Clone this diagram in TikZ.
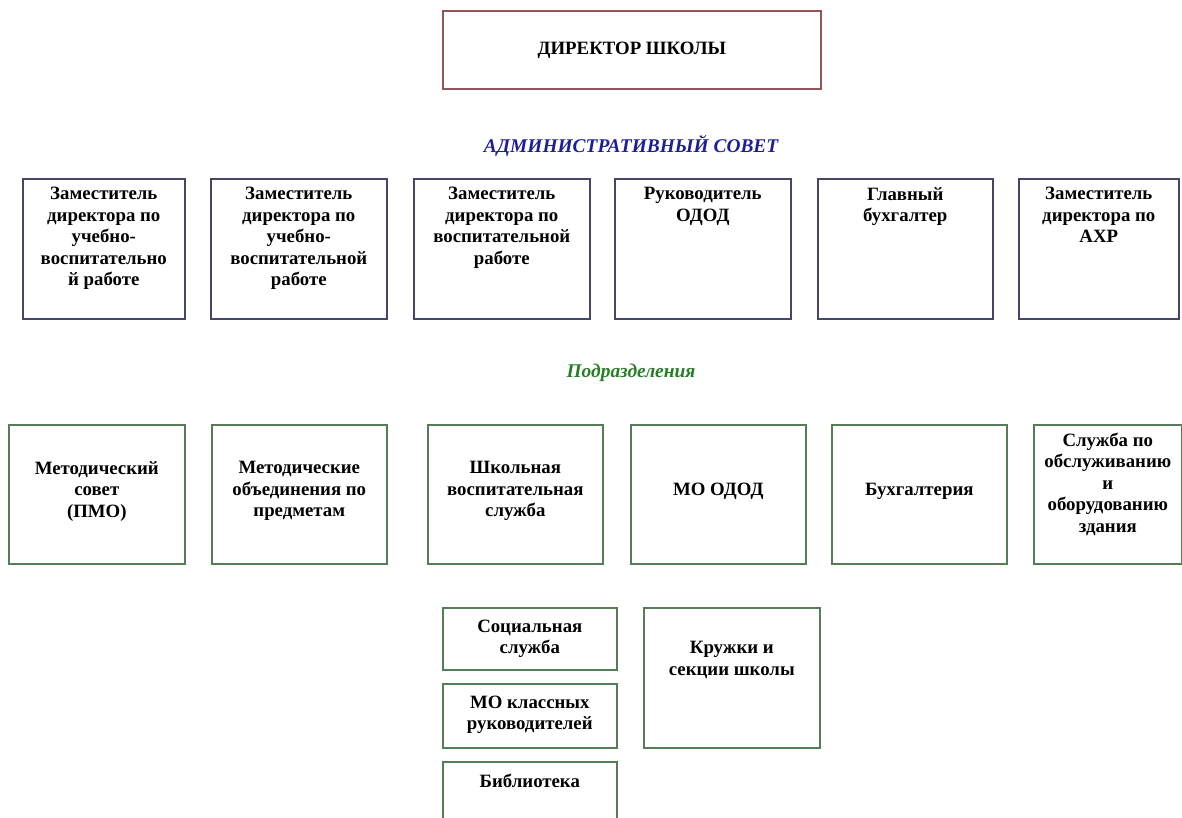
\documentclass[tikz,border=0pt]{standalone}
\usepackage{fontspec}
\setmainfont{Liberation Serif}
\definecolor{dirred}{RGB}{150,85,90}
\definecolor{navyb}{RGB}{70,70,105}
\definecolor{greenb}{RGB}{85,125,85}
\definecolor{tblue}{RGB}{30,30,150}
\definecolor{tgreen}{RGB}{40,125,40}
\begin{document}
\begin{tikzpicture}[x=1pt,y=-1pt,
  box/.style={draw, line width=1.6pt, inner sep=0pt, anchor=north west},
  navybox/.style={box, draw=navyb},
  greenbox/.style={box, draw=greenb},
  txt/.style={font=\bfseries\fontsize{18.8}{21.5}\selectfont, align=center, inner sep=0pt, text=black},
  ttl/.style={font=\bfseries\itshape\fontsize{19.4}{24}\selectfont, inner sep=0pt}]
\useasboundingbox (0,0) rectangle (1182,818);
\clip (0,0) rectangle (1182,818);
\fill[white] (0,0) rectangle (1182,818);
% director
\node[box, draw=dirred, minimum width=378pt, minimum height=78pt] (dir) at (442,10) {};
\node[txt] (dirt) at (dir.center) {ДИРЕКТОР ШКОЛЫ};
\node[ttl, text=tblue] (adm) at (631,146) {АДМИНИСТРАТИВНЫЙ СОВЕТ};
% row 1
\node[navybox, minimum width=162pt, minimum height=140pt] (a1) at (22,178) {};
\node[navybox, minimum width=176pt, minimum height=140pt] (a2) at (210,178) {};
\node[navybox, minimum width=176pt, minimum height=140pt] (a3) at (413,178) {};
\node[navybox, minimum width=176pt, minimum height=140pt] (a4) at (614,178) {};
\node[navybox, minimum width=175pt, minimum height=140pt] (a5) at (817,178) {};
\node[navybox, minimum width=160pt, minimum height=140pt] (a6) at (1018,178) {};
\node[txt, anchor=north] (a1t) at ([yshift=-9pt]a1.north) {Заместитель\\директора по\\учебно-\\воспитательно\\й работе};
\node[txt, anchor=north] (a2t) at ([yshift=-9pt]a2.north) {Заместитель\\директора по\\учебно-\\воспитательной\\работе};
\node[txt, anchor=north] (a3t) at ([yshift=-9pt]a3.north) {Заместитель\\директора по\\воспитательной\\работе};
\node[txt, anchor=north] (a4t) at ([yshift=-9pt]a4.north) {Руководитель\\ОДОД};
\node[txt, anchor=north] (a5t) at ([yshift=-9pt]a5.north) {Главный\\бухгалтер};
\node[txt, anchor=north] (a6t) at ([yshift=-9pt]a6.north) {Заместитель\\директора по\\АХР};
\node[ttl, text=tgreen] (pod) at (631,373) {Подразделения};
% row 2
\node[greenbox, minimum width=176pt, minimum height=139pt] (b1) at (8,424) {};
\node[greenbox, minimum width=175pt, minimum height=139pt] (b2) at (211,424) {};
\node[greenbox, minimum width=175pt, minimum height=139pt] (b3) at (427,424) {};
\node[greenbox, minimum width=175pt, minimum height=139pt] (b4) at (630,424) {};
\node[greenbox, minimum width=175pt, minimum height=139pt] (b5) at (831,424) {};
\node[greenbox, minimum width=148pt, minimum height=139pt] (b6) at (1033,424) {};
\node[txt] (b1t) at ([yshift=3pt]b1.center) {Методический\\совет\\(ПМО)};
\node[txt] (b2t) at ([yshift=3pt]b2.center) {Методические\\объединения по\\предметам};
\node[txt] (b3t) at ([yshift=3pt]b3.center) {Школьная\\воспитательная\\служба};
\node[txt] (b4t) at ([yshift=3pt]b4.center) {МО ОДОД};
\node[txt] (b5t) at ([yshift=3pt]b5.center) {Бухгалтерия};
\node[txt] (b6t) at ([yshift=10pt]b6.center) {Служба по\\обслуживанию\\и\\оборудованию\\здания};
% row 3
\node[greenbox, minimum width=174pt, minimum height=62pt] (c1) at (442,607) {};
\node[greenbox, minimum width=174pt, minimum height=64pt] (c2) at (442,683) {};
\node[greenbox, minimum width=174pt, minimum height=80pt] (c3) at (442,761) {};
\node[greenbox, minimum width=176pt, minimum height=140pt] (c4) at (643,607) {};
\node[txt] (c1t) at (c1.center) {Социальная\\служба};
\node[txt] (c2t) at ([yshift=1pt]c2.center) {МО классных\\руководителей};
\node[txt, anchor=north] (c3t) at ([yshift=-13pt]c3.north) {Библиотека};
\node[txt, anchor=north] (c4t) at ([yshift=-34pt]c4.north) {Кружки и\\секции школы};
\end{tikzpicture}
\end{document}
